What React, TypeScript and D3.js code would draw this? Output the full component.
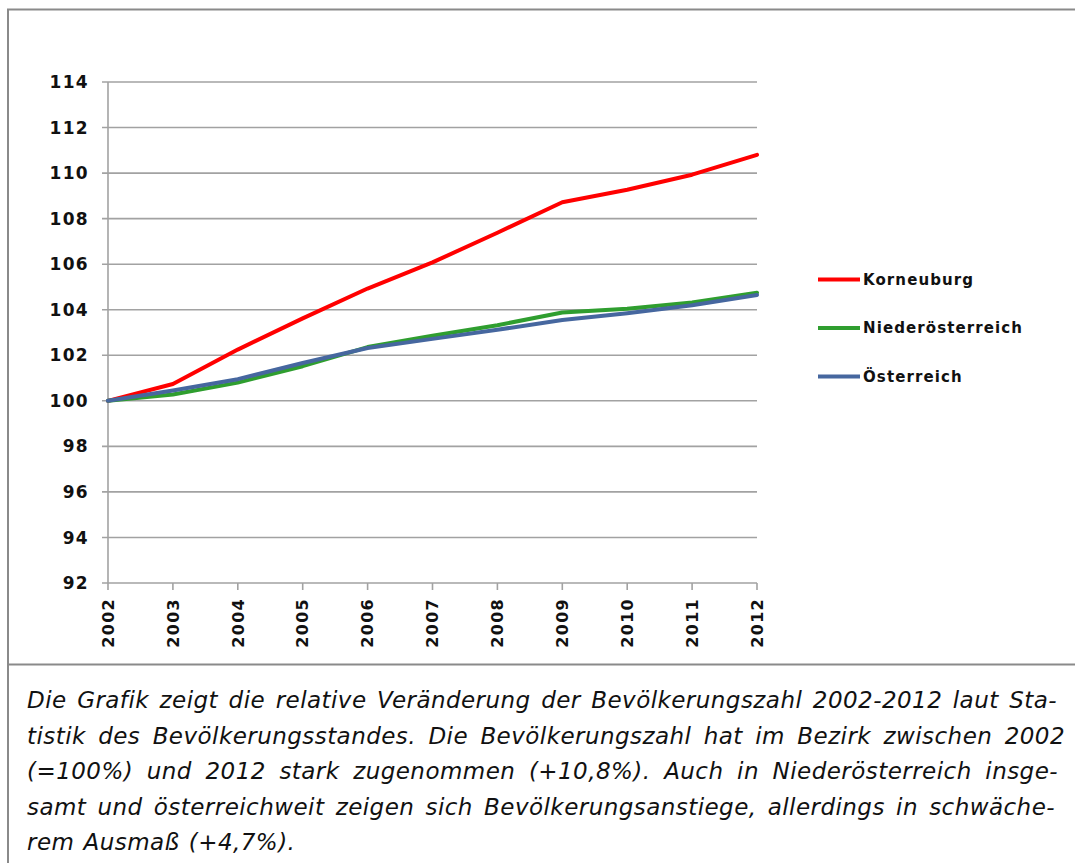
import React, { useEffect, useRef } from "react";
import * as d3 from "d3";

const years = [2002, 2003, 2004, 2005, 2006, 2007, 2008, 2009, 2010, 2011, 2012];
const korneuburg = [100, 100.74, 102.25, 103.62, 104.93, 106.08, 107.38, 108.72, 109.27, 109.93, 110.8];
const niederoesterreich = [100, 100.28, 100.8, 101.52, 102.36, 102.86, 103.32, 103.88, 104.04, 104.32, 104.75];
const oesterreich = [100, 100.45, 100.95, 101.66, 102.32, 102.72, 103.12, 103.55, 103.85, 104.2, 104.65];
const yTicks = [92, 94, 96, 98, 100, 102, 104, 106, 108, 110, 112, 114];
const seriesNames = ["Korneuburg", "Niederösterreich", "Österreich"];
const seriesColors = ["#ff0000", "#2f9e2f", "#46679f"];
const captionLines = [
  "Die Grafik zeigt die relative Veränderung der Bevölkerungszahl 2002-2012 laut Sta-",
  "tistik des Bevölkerungsstandes. Die Bevölkerungszahl hat im Bezirk zwischen 2002",
  "(=100%) und 2012 stark zugenommen (+10,8%). Auch in Niederösterreich insge-",
  "samt und österreichweit zeigen sich Bevölkerungsanstiege, allerdings in schwäche-",
  "rem Ausmaß (+4,7%).",
];

const W = 1075;
const H = 863;
const plot = { left: 108, right: 757, top: 82, bottom: 583 };
const captionX = 27;
const captionRight = [1057, 1065, 1058, 1055, null];
const captionBase = 708;
const captionStep = 35.5;
const captionSize = 23;

export default function App() {
  const capRef = useRef<SVGGElement>(null);

  const x = d3.scalePoint<number>().domain(years).range([plot.left, plot.right]);
  const y = d3.scaleLinear().domain([92, 114]).range([plot.bottom, plot.top]);
  const allSeries = [korneuburg, niederoesterreich, oesterreich];
  const line = d3
    .line<number>()
    .x((_, i) => x(years[i]) as number)
    .y((d) => y(d));

  useEffect(() => {
    const g = d3.select(capRef.current);
    g.selectAll("*").remove();
    captionLines.forEach((ln, li) => {
      const words = ln.split(" ");
      const by = captionBase + li * captionStep;
      const nodes = words.map((w) =>
        g
          .append("text")
          .attr("y", by)
          .attr("font-family", "'DejaVu Sans', Verdana, sans-serif")
          .attr("font-style", "italic")
          .attr("font-size", captionSize)
          .attr("letter-spacing", 0.45)
          .attr("fill", "#111")
          .text(w)
      );
      const widths = nodes.map((n) => (n.node() as SVGTextElement).getComputedTextLength());
      const total = widths.reduce((a, b) => a + b, 0);
      const right = captionRight[li];
      let gap: number;
      if (right == null) {
        gap = captionSize * 0.4;
      } else {
        gap = (right - captionX - total) / Math.max(1, words.length - 1);
      }
      let cx = captionX;
      nodes.forEach((n, i) => {
        n.attr("x", cx);
        cx += widths[i] + gap;
      });
    });
  }, []);

  return (
    <svg
      width={W}
      height={H}
      style={{ position: "absolute", left: 0, top: 0, background: "#fff" }}
    >
      <rect x={0} y={0} width={W} height={H} fill="#fff" />
      {/* frame */}
      <rect x={8} y={9.5} width={W + 20} height={H + 40} fill="none" stroke="#8a8a8a" strokeWidth={2} />
      <line x1={8} x2={W} y1={664.5} y2={664.5} stroke="#8a8a8a" strokeWidth={2} />

      {/* grid + y ticks */}
      {yTicks.map((t) => (
        <g key={t}>
          <line x1={plot.left - 6} x2={plot.right} y1={y(t)} y2={y(t)} stroke="#a2a2a2" strokeWidth={1.6} />
          <text
            x={89}
            y={y(t)}
            dy="0.36em"
            textAnchor="end"
            fontFamily="'DejaVu Sans', Verdana, sans-serif"
            fontWeight="bold"
            fontSize={17}
            letterSpacing={1.3}
            fill="#111"
          >
            {t}
          </text>
        </g>
      ))}
      {/* y axis */}
      <line x1={plot.left} x2={plot.left} y1={plot.top} y2={plot.bottom} stroke="#a2a2a2" strokeWidth={1.6} />
      {/* x ticks + labels */}
      {years.map((yr) => (
        <g key={yr}>
          <line x1={x(yr)} x2={x(yr)} y1={plot.bottom} y2={plot.bottom + 7} stroke="#a2a2a2" strokeWidth={1.6} />
          <text
            transform={`translate(${x(yr)},${plot.bottom + 15}) rotate(-90)`}
            dy="0.36em"
            textAnchor="end"
            fontFamily="'DejaVu Sans', Verdana, sans-serif"
            fontWeight="bold"
            fontSize={16}
            letterSpacing={1.3}
            fill="#111"
          >
            {yr}
          </text>
        </g>
      ))}

      {/* series */}
      {allSeries.map((s, i) => (
        <path
          key={seriesNames[i]}
          d={line(s) as string}
          fill="none"
          stroke={seriesColors[i]}
          strokeWidth={4}
          strokeLinejoin="round"
          strokeLinecap="round"
        />
      ))}

      {/* legend */}
      {seriesNames.map((n, i) => {
        const ly = 279.5 + i * 48.5;
        return (
          <g key={n}>
            <line x1={818} x2={860} y1={ly} y2={ly} stroke={seriesColors[i]} strokeWidth={4} />
            <text
              x={863}
              y={ly}
              dy="0.36em"
              fontFamily="'DejaVu Sans', Verdana, sans-serif"
              fontWeight="bold"
              fontSize={15}
              letterSpacing={1.1}
              fill="#111"
            >
              {n}
            </text>
          </g>
        );
      })}

      <g ref={capRef} />
    </svg>
  );
}
